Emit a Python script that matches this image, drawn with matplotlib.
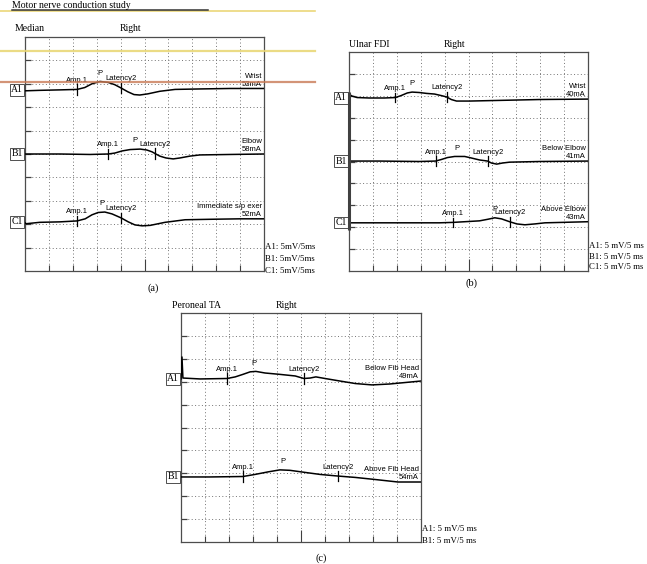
import matplotlib.pyplot as plt
import numpy as np
from matplotlib.lines import Line2D

plt.rcParams['font.family'] = ['Liberation Sans', 'DejaVu Sans']
SERIF = ['Liberation Serif', 'DejaVu Serif']

# screen is 10 x 10 divisions, 5 ms/div and 5 mV/div -> 0..50 on both axes
chans = ["A1", "B1", "C1"]

# (a) median nerve
median_sites = ["Wrist", "Elbow", "Immediate s/p exer"]
median_mA = [53, 58, 52]
median_base = [38.7, 25.0, 10.5]
median_amp1 = [10.9, 17.4, 10.9]
median_peak = [15.7, 23.0, 16.0]
median_lat2 = [20.1, 27.2, 20.1]
median_t = [
    [0, 3, 7.3, 10.9, 12.5, 14, 15.7, 17.4, 18.8, 20.1, 21.5, 22.8, 24, 25.7, 28.2, 31.4, 36.6, 42.9, 50],
    [0, 7.3, 13.6, 17.4, 18.8, 20.3, 22.0, 24.1, 25.5, 26.6, 27.2, 28.2, 29.5, 31.0, 32.4, 34.5, 36.6, 42.9, 50],
    [0, 0.2, 3.1, 7.3, 10.9, 12.6, 14.0, 15.3, 16.7, 18.2, 20.1, 21.6, 23.0, 24.5, 26.2, 29.3, 33.5, 38.7, 45.0, 50],
]
median_mv = [
    [-0.2, -0.1, 0, 0.1, 0.5, 1.3, 1.8, 1.6, 1.1, 0.4, -0.4, -1.0, -1.1, -0.85, -0.3, 0.1, 0.2, 0.3, 0.3],
    [0, 0, -0.1, 0, 0.2, 0.65, 0.95, 1.05, 0.85, 0.45, 0.1, -0.45, -0.85, -1.05, -0.85, -0.45, -0.2, -0.1, 0],
    [-0.2, -0.4, -0.1, 0, 0.2, 0.65, 1.5, 2.0, 2.1, 1.7, 0.85, 0, -0.65, -0.85, -0.75, -0.1, 0.45, 0.55, 0.65, 0.65],
]

# (b) ulnar nerve, FDI
ulnar_sites = ["Wrist", "Below Elbow", "Above Elbow"]
ulnar_mA = [40, 41, 43]
ulnar_base = [39.5, 25.1, 11.0]
ulnar_amp1 = [9.7, 18.1, 21.8]
ulnar_peak = [13.2, 22.5, 30.5]
ulnar_lat2 = [20.4, 29.0, 33.6]
ulnar_t = [
    [0, 0.6, 1.7, 4.2, 7.4, 9.7, 10.9, 12.2, 13.2, 14.7, 16.2, 17.9, 19.3, 20.4, 21.4, 22.5, 25.2, 31.5, 39.9, 50],
    [0, 6.3, 14.7, 18.1, 19.3, 20.6, 22.1, 24.2, 25.6, 27.3, 29.0, 29.8, 30.9, 32.1, 33.6, 39.9, 50],
    [0, 10.5, 18.9, 21.8, 24.2, 27.3, 29.0, 30.5, 31.9, 33.6, 35.1, 36.8, 38.9, 41.0, 50],
]
ulnar_mv = [
    [0.9, 0.45, 0.1, 0, 0, 0.1, 0.55, 1.15, 1.35, 1.25, 1.05, 0.9, 0.55, 0.25, -0.35, -0.7, -0.7, -0.55, -0.35, -0.25],
    [0, 0, -0.1, 0, 0.35, 0.8, 1.05, 1.05, 0.7, 0.25, 0, -0.45, -0.7, -0.45, -0.25, -0.1, 0],
    [0, 0, 0, 0.1, 0.25, 0.45, 0.8, 1.15, 0.9, 0.25, -0.25, -0.45, -0.25, 0, 0.25],
]
ulnar_cal_bar = [9.4, 40.9]

# (c) peroneal nerve, TA
peroneal_sites = ["Below Fib Head", "Above Fib Head"]
peroneal_mA = [49, 54]
peroneal_base = [35.6, 14.2]
peroneal_amp1 = [9.6, 12.9]
peroneal_peak = [15.2, 21.2]
peroneal_lat2 = [25.6, 32.7]
peroneal_t = [
    [0, 0.2, 0.4, 4.0, 9.6, 11.3, 12.9, 14.4, 15.6, 17.5, 20.6, 23.8, 25.6, 26.9, 28.1, 30.0, 33.1, 36.3, 39.8, 43.5, 50],
    [0, 6.0, 12.9, 15.4, 18.1, 20.6, 22.7, 25.8, 29.0, 32.7, 36.3, 40.4, 45.2, 50],
]
peroneal_mv = [
    [0, 4.8, 0.2, 0, 0.1, 0.45, 1.0, 1.55, 1.65, 1.3, 1.0, 0.65, 0.1, 0.2, 0.45, 0.1, -0.45, -1.0, -1.3, -1.1, -0.45],
    [0, 0, 0.1, 0.55, 1.1, 1.55, 1.45, 1.0, 0.55, 0.2, -0.1, -0.55, -1.1, -1.1],
]


def draw_panel(ax, nerve, nerve_x, sites, mA, base, amp1, peak, lat2, ts, mvs, scale_fmt, scale_y):
    ax.set_xlim(0, 50)
    ax.set_ylim(0, 50)
    ax.set_xticks([25])
    ax.set_xticks([5, 10, 15, 20, 30, 35, 40, 45], minor=True)
    ax.set_yticks(range(5, 50, 5))
    ax.tick_params(axis='x', which='major', direction='in', length=9, width=0.8,
                   color='0.25', labelbottom=False)
    ax.tick_params(axis='x', which='minor', direction='in', length=4, width=0.8, color='0.25')
    ax.tick_params(axis='y', direction='in', length=4.5, width=0.9, color='0.25', labelleft=False)
    ax.grid(True, which='both', ls=(0, (1, 2.5)), color='0.45', lw=0.7)
    for s in ax.spines.values():
        s.set_color('0.3')
        s.set_linewidth(0.9)

    ax.text(nerve_x, 1.015, nerve, transform=ax.transAxes, ha='left', va='bottom',
            family=SERIF, fontsize=7)
    ax.text(0.44, 1.015, "Right", transform=ax.transAxes, ha='center', va='bottom',
            family=SERIF, fontsize=7)

    for i in range(len(sites)):
        t = np.array(ts[i])
        v = np.array(mvs[i]) + base[i]
        ax.plot(t, v, color='k', lw=1.1, zorder=3)
        for m, lab in [(amp1[i], 'Amp.1'), (lat2[i], 'Latency2')]:
            y = np.interp(m, t, v)
            ax.plot([m, m], [y - 1.1, y + 1.1], color='k', lw=0.9, zorder=3)
            ax.annotate(lab, (m, y), xytext=(0, 6.5), textcoords='offset points',
                        ha='center', va='center', fontsize=5.5)
        yp = np.interp(peak[i], t, v)
        ax.annotate('P', (peak[i], yp), xytext=(0, 6), textcoords='offset points',
                    ha='center', va='center', fontsize=5.5)
        ax.annotate(f"{sites[i]}\n{mA[i]}mA", (49.6, v[-1]), xytext=(0, 0.5),
                    textcoords='offset points', ha='right', va='bottom',
                    multialignment='right', fontsize=5.5, linespacing=1.25)
        ax.annotate(chans[i], (0, base[i]), xytext=(-1.5, 0), textcoords='offset points',
                    ha='right', va='center', family=SERIF, fontsize=7, annotation_clip=False,
                    bbox=dict(boxstyle='square,pad=0.12', fc='white', ec='0.2', lw=0.6))

    for i in range(len(sites)):
        ax.text(1.004, scale_y[i], scale_fmt % chans[i], transform=ax.transAxes,
                ha='left', va='center', family=SERIF, fontsize=6.3)


fig = plt.figure(figsize=(6.47, 5.64), dpi=100)

ax_a = fig.add_axes([25 / 647, 1 - 271 / 564, 239 / 647, 234 / 564])
draw_panel(ax_a, "Median", -0.042, median_sites, median_mA, median_base, median_amp1,
           median_peak, median_lat2, median_t, median_mv, "%s: 5mV/5ms", [0.103, 0.051, 0.0])

ax_b = fig.add_axes([349 / 647, 1 - 271 / 564, 239 / 647, 219 / 564])
draw_panel(ax_b, "Ulnar FDI", 0.0, ulnar_sites, ulnar_mA, ulnar_base, ulnar_amp1,
           ulnar_peak, ulnar_lat2, ulnar_t, ulnar_mv, "%s: 5 mV/5 ms", [0.114, 0.064, 0.018])
ax_b.plot([0, 0], ulnar_cal_bar, color='0.25', lw=2.2, solid_capstyle='butt',
          clip_on=False, zorder=4)

ax_c = fig.add_axes([181 / 647, 1 - 542 / 564, 240 / 647, 229 / 564])
draw_panel(ax_c, "Peroneal TA", -0.0375, peroneal_sites, peroneal_mA, peroneal_base,
           peroneal_amp1, peroneal_peak, peroneal_lat2, peroneal_t, peroneal_mv,
           "%s: 5 mV/5 ms", [0.057, 0.004])

fig.text(153 / 647, 1 - 288 / 564, "(a)", ha='center', va='center', family=SERIF, fontsize=7.5)
fig.text(472 / 647, 1 - 283 / 564, "(b)", ha='center', va='center', family=SERIF, fontsize=7.5)
fig.text(321 / 647, 1 - 558 / 564, "(c)", ha='center', va='center', family=SERIF, fontsize=7.5)

# header of the scanned report page
fig.text(12 / 647, 1 - 7.5 / 564, "Motor nerve conduction study", ha='left', va='baseline',
         family=SERIF, fontsize=7)
fig.add_artist(Line2D([0, 315 / 647], [1 - 10.5 / 564] * 2, color='#e9d36a', lw=1.2, alpha=0.9))
fig.add_artist(Line2D([12 / 647, 208 / 647], [1 - 10 / 564] * 2, color='0.2', lw=1.1))
fig.add_artist(Line2D([0, 315 / 647], [1 - 51 / 564] * 2, color='#e8d570', lw=1.6, alpha=0.85, zorder=5))
fig.add_artist(Line2D([0, 315 / 647], [1 - 82 / 564] * 2, color='#c97a55', lw=1.6, alpha=0.8, zorder=5))

fig.savefig('out.png', dpi=100)
